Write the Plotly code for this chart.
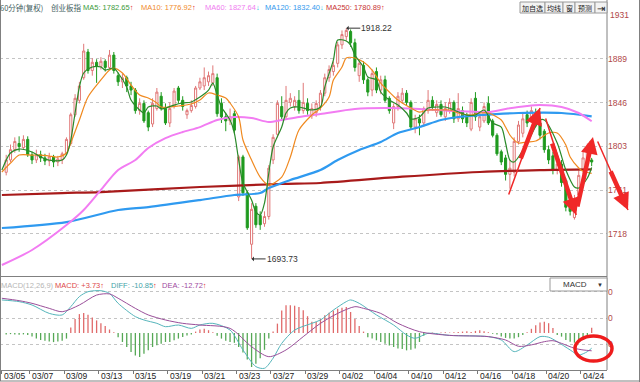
import plotly.graph_objects as go

# ---------------- data (60-minute bars, ChiNext index, 2018-03-05 .. 2018-04-24) ----------------
opens = [1778,1790,1800,1806,1802,1810,1795,1790,1795,1792,1789,1793,1788,1790,
         1797,1806,1834,1848,1870,1895,1877,1885,1881,1886,1880,1892,1872,1866,1870,1862,
         1858,1838,1845,1836,1825,1840,1852,1840,1826,1842,1860,1848,1834,1838,1842,1860,
         1862,1866,1865,1870,1845,1832,1828,1835,1754,1793,1758,
         1708,1745,1736,1728,1735,1790,1815,1842,1832,1846,1842,1848,1838,1845,1833,1836,
         1842,1855,1870,1876,1884,1902,1910,1915,1904,1872,1882,1868,1858,1876,1858,1868,
         1850,1826,1842,1848,1855,1846,1822,1830,1826,1838,1848,1836,1844,1832,1838,
         1846,1830,1838,1832,1820,1850,1822,1828,1845,1828,1814,1798,1792,1776,1778,1808,
         1816,1834,1830,1836,1826,1818,1800,1794,1780,1786,1770,1746,1734,1756,1780,1786,1790]
closes = [1790,1800,1808,1803,1810,1795,1790,1795,1792,1789,1793,1788,1791,1796,
          1810,1834,1850,1862,1896,1877,1885,1881,1886,1880,1892,1877,1866,1870,1862,1858,
          1838,1845,1828,1822,1845,1856,1840,1826,1840,1857,1848,1842,1838,1843,1860,1866,
          1870,1872,1874,1835,1832,1828,1832,1819,1793,1758,1724,
          1742,1727,1727,1735,1782,1812,1845,1832,1848,1850,1848,1838,1846,1838,1840,1845,
          1855,1870,1878,1882,1902,1912,1916,1904,1880,1884,1868,1856,1874,1858,1868,1848,
          1838,1842,1852,1855,1846,1822,1830,1826,1840,1848,1842,1844,1834,1840,1846,
          1830,1840,1830,1826,1846,1832,1832,1842,1826,1814,1796,1788,1776,1782,1808,1824,
          1830,1826,1838,1826,1814,1800,1790,1780,1786,1768,1744,1740,1752,1775,1792,1800,1788]
highs = [1795,1805,1812,1813,1814,1813,1798,1800,1799,1796,1797,1795,1794,1798,
         1812,1836,1854,1866,1903,1898,1889,1888,1890,1888,1897,1895,1875,1874,1872,1866,
         1860,1850,1848,1838,1850,1860,1856,1845,1846,1860,1862,1852,1840,1848,1862,1870,
         1880,1876,1882,1874,1850,1836,1840,1838,1795,1795,1760,
         1748,1748,1740,1740,1785,1815,1848,1852,1862,1855,1852,1858,1865,1850,1845,1848,
         1858,1874,1882,1886,1905,1916,1918.22,1917,1908,1888,1886,1870,1878,1880,1872,1872,
         1852,1845,1856,1860,1858,1848,1834,1834,1842,1858,1852,1848,1848,1846,1850,
         1848,1855,1842,1836,1850,1856,1836,1846,1852,1830,1816,1800,1795,1790,1812,1828,
         1836,1838,1842,1840,1830,1820,1804,1798,1790,1790,1772,1750,1756,1780,1798,1806,1792]
lows = [1775,1788,1797,1798,1800,1793,1786,1787,1788,1785,1784,1783,1784,1786,
        1795,1804,1832,1845,1868,1874,1872,1865,1878,1876,1878,1874,1862,1860,1856,1853,
        1835,1834,1826,1818,1822,1838,1838,1824,1822,1840,1845,1838,1830,1836,1840,1858,
        1858,1862,1862,1832,1826,1818,1824,1816,1750,1755,1722,
        1693.73,1724,1722,1725,1732,1786,1812,1828,1830,1842,1838,1835,1835,1834,1830,1832,
        1838,1852,1866,1872,1880,1898,1906,1900,1876,1866,1864,1852,1852,1855,1854,1846,
        1835,1820,1838,1845,1843,1820,1816,1814,1822,1835,1838,1832,1832,1828,1835,
        1826,1827,1826,1822,1818,1828,1818,1826,1824,1812,1794,1785,1770,1762,1774,1805,
        1812,1822,1826,1822,1810,1797,1786,1776,1776,1764,1740,1736,1732,1752,1776,1783,1784]

ma5_x = [-1,1,3,6,8,10,13,14,15,16,17,18,20,22,23,25,26,28,29,31,32,33,35,36,37,39,41,43,45,47,
         48,49,50,52,53,54,55,57,58,59,60,61,62,64,65,66,68,71,73,74,76,77,79,80,81,83,84,86,87,89,
         91,93,94,96,98,100,102,104,107,109,111,113,115,116,117,118,121,124,125,128,130,132,133,135,136]
ma5_v = [1780.2,1796.8,1800.6,1797.7,1792.9,1789.9,1789.9,1794.8,1809.4,1835.7,1860.9,1874.6,1880.4,
         1880.4,1877.5,1879.4,1874.6,1860.9,1848.3,1838.6,1835.7,1841.5,1842.5,1839.6,1840.5,1843.4,
         1845.4,1846.4,1851.2,1858.0,1864.8,1853.2,1841.5,1828.9,1816.2,1789.9,1767.6,1751.0,1739.4,
         1736.4,1748.1,1777.3,1802.6,1822.0,1835.7,1840.5,1841.5,1838.6,1841.5,1860.9,1887.2,1906.7,
         1905.7,1901.8,1892.1,1880.4,1870.7,1867.8,1856.1,1848.3,1843.4,1835.7,1829.8,1831.8,1840.5,
         1841.5,1841.5,1838.6,1833.7,1833.7,1838.6,1825.9,1822.0,1806.5,1789.9,1788.0,1806.5,1828.9,
         1828.9,1806.5,1780.2,1763.7,1762.7,1772.4,1782.65]
ma10_x = [-1,1,3,6,8,10,12,14,15,17,19,22,24,25,27,29,31,33,35,36,38,40,43,45,47,49,51,52,54,55,
          57,59,61,64,66,68,71,73,75,76,78,79,81,83,85,87,89,91,94,96,98,101,103,105,108,110,112,
          115,116,117,118,119,121,123,126,128,130,131,133,134,136]
ma10_v = [1778.3,1787.0,1794.8,1794.8,1794.8,1793.8,1792.9,1796.8,1806.5,1828.9,1851.2,1867.8,1877.5,
          1879.4,1874.6,1862.9,1853.2,1850.3,1845.4,1841.5,1841.5,1842.5,1844.4,1848.3,1855.1,1853.2,
          1850.3,1845.4,1831.8,1809.4,1789.9,1773.4,1765.6,1773.4,1792.9,1819.1,1833.7,1840.5,1851.2,
          1867.8,1880.4,1889.2,1889.2,1885.3,1877.5,1864.8,1856.1,1848.3,1840.5,1836.6,1838.6,1838.6,
          1838.6,1835.7,1833.7,1835.7,1835.7,1828.9,1822.0,1814.3,1809.4,1806.5,1807.5,1808.4,1816.2,
          1816.2,1804.5,1792.9,1782.2,1779.0,1776.92]
ma60_x = [-1,6,14,18,22,26,30,33,37,41,45,49,53,57,61,64,68,73,81,88,96,104,112,116,121,124,129,133,136]
ma60_v = [1687.8,1702.4,1726.7,1741.3,1760.8,1780.2,1789.9,1801.6,1811.3,1817.2,1822.0,1828.9,1831.8,
          1830.8,1826.9,1828.9,1831.8,1834.7,1839.6,1840.5,1839.6,1837.6,1836.6,1839.6,1842.5,1843.4,
          1841.5,1835.7,1827.64]
ma120_x = [-1,14,26,33,45,53,59,61,66,73,77,82,87,91,96,101,105,110,119,129,136]
ma120_v = [1723.8,1729.6,1741.3,1744.2,1751.0,1755.9,1757.8,1762.7,1770.5,1780.2,1789.9,1799.7,1807.5,
           1816.2,1822.0,1828.9,1831.8,1833.7,1835.7,1835.7,1832.4]
ma250_x = [-1,13,22,45,64,73,92,110,124,136]
ma250_v = [1755.9,1757.8,1758.8,1763.7,1766.6,1767.6,1773.7,1778.3,1780.2,1780.89]

macd_hist = [-1.0,-0.8,-1.0,-1.2,-1.0,-1.5,-2.5,-4.0,-5.0,-5.5,-6.0,-6.5,-6.0,-5.5,-4.0,
             4.0,10.0,13.5,14.3,13.0,11.0,9.0,7.0,5.0,2.5,0.5,
             -3.0,-6.4,-10.0,-13.6,-16.0,-17.1,-14.8,-12.4,-10.0,-8.8,-7.6,-6.4,-6.4,-5.2,-4.0,-2.9,-1.7,-1.0,
             1.0,2.5,3.0,2.0,0.5,
             -2.0,-4.0,-5.5,-6.4,-7.0,-10.0,-14.0,-19.0,-24.3,-22.0,-18.0,-12.0,-4.0,
             1.0,6.7,16.0,19.8,19.8,19.5,18.6,16.2,12.0,8.0,8.0,10.0,12.6,14.5,16.0,17.4,18.0,18.6,15.0,10.0,5.0,1.0,
             -3.0,-4.0,-5.2,-6.5,-7.6,-9.0,-10.0,-11.0,-11.5,-12.4,-12.0,-11.0,-6.4,-2.0,
             -0.5,0.3,-0.3,0.3,0.5,0.3,0.5,0.7,1.0,1.2,0.8,1.5,1.9,1.2,0.5,
             -0.5,-1.0,-2.5,-3.5,-4.0,-4.0,-3.0,-1.5,
             0.5,3.0,5.5,7.5,8.0,7.0,3.5,
             -1.4,-2.6,-5.0,-6.2,-6.9,-6.2,-5.0,-2.6,3.73]
diff_x = [-1,3,6,10,13,15,17,19,22,24,26,30,32,35,37,40,43,45,48,52,55,58,60,62,64,67,71,73,76,79,
          80,82,86,90,93,95,98,103,112,115,118,121,124,126,128,131,133,135,136]
diff_v = [23.6,22.4,20.0,14.0,12.9,18.8,26.0,29.5,30.2,28.3,21.2,11.7,9.3,6.9,4.5,5.7,3.3,5.7,6.9,2.1,
          -12.1,-24.0,-25.2,-18.0,-7.4,2.1,6.9,9.3,16.4,22.4,23.6,21.2,12.9,5.7,-1.4,-3.8,-0.2,-1.7,
          -2.6,-5.0,-13.3,-8.6,-2.6,-3.0,-6.2,-12.1,-15.7,-13.3,-10.85]
dea_x = [-1,3,6,10,13,17,21,24,26,30,33,37,41,45,52,57,61,65,69,73,77,81,83,87,91,96,103,112,116,119,
         122,125,127,129,132,134,136]
dea_v = [24.8,23.1,21.2,17.6,15.2,20.0,27.1,27.9,24.8,17.6,12.9,9.3,6.9,5.7,3.3,-9.8,-16.9,-12.1,-2.6,
         6.9,14.0,18.8,17.6,14.0,6.9,0.95,-1.7,-2.6,-5.0,-9.5,-8.5,-6.2,-5.5,-7.4,-10.9,-12.1,-12.72]

tick_idx = [-1.0,5.5,13.5,21.5,29.5,37.5,45.5,53.5,61.5,69.5,77.5,85.5,93.5,101.5,109.5,117.5,125.5,133.5]
tick_labels = ['03/05','03/07','03/09','03/13','03/15','03/19','03/21','03/23','03/27','03/29',
               '04/02','04/04','04/10','04/12','04/16','04/18','04/20','04/24']
price_ticks = [1718.0, 1760.6, 1803.2, 1845.8, 1888.4]
price_tick_text = ['1718', '1761', '1803', '1846', '1889']
price_top_tick, price_top_text = 1931.0, '1931'
macd_ticks = [29.6, 10.7, -7.9]
macd_tick_text = ['0', '0', '0']

high_idx, high_val = 79, 1918.22
low_idx, low_val = 57, 1693.73

# ---------------- figure ----------------
W, H = 640, 382
ML, MR, MT, MB = 0, 33, 0, 12
PW, PH = W - ML - MR, H - MT - MB

def paper(px, py):
    return (px - ML) / PW, (PH - (py - MT)) / PH

LAT = "Liberation Sans, Arial, sans-serif"
CJK = "Noto Sans CJK SC, sans-serif"
AXIS_RED = '#b04848'

idx = list(range(len(closes)))
fig = go.Figure()

fig.add_trace(go.Candlestick(
    x=idx, open=opens, high=highs, low=lows, close=closes,
    increasing=dict(line=dict(color='#e07878', width=1), fillcolor='#ffffff'),
    decreasing=dict(line=dict(color='#1f9a1f', width=1), fillcolor='#1f9a1f'),
    whiskerwidth=0, xaxis='x', yaxis='y', showlegend=False, hoverinfo='skip'))

for xs, vs, col, w in [(ma250_x, ma250_v, '#a81a1a', 2.2), (ma120_x, ma120_v, '#2f9af0', 2.2),
                       (ma60_x, ma60_v, '#f27cf2', 2.0), (ma10_x, ma10_v, '#f0891f', 1.2),
                       (ma5_x, ma5_v, '#2a8a2a', 1.2)]:
    fig.add_trace(go.Scatter(x=xs, y=vs, mode='lines', xaxis='x', yaxis='y',
                             line=dict(color=col, width=w, shape='spline', smoothing=0.8),
                             showlegend=False, hoverinfo='skip'))

fig.add_trace(go.Bar(x=idx, y=macd_hist, xaxis='x', yaxis='y2', width=0.3,
                     marker=dict(color=['#e06a6a' if v > 0 else '#55a855' for v in macd_hist], line=dict(width=0)),
                     showlegend=False, hoverinfo='skip'))
fig.add_trace(go.Scatter(x=diff_x, y=diff_v, mode='lines', xaxis='x', yaxis='y2',
                         line=dict(color='#55b5bb', width=1, shape='spline', smoothing=0.8),
                         showlegend=False, hoverinfo='skip'))
fig.add_trace(go.Scatter(x=dea_x, y=dea_v, mode='lines', xaxis='x', yaxis='y2',
                         line=dict(color='#9a4f9a', width=1, shape='spline', smoothing=0.8),
                         showlegend=False, hoverinfo='skip'))

main_bot = paper(0, 272)[1]
main_top = paper(0, 14)[1]
macd_top = paper(0, 277)[1]

fig.update_layout(
    width=W, height=H, margin=dict(l=ML, r=MR, t=MT, b=MB, autoexpand=False),
    paper_bgcolor='white', plot_bgcolor='white', showlegend=False,
    xaxis=dict(range=[-1.44, 139.56], anchor='y2', domain=[0, 1], showgrid=False, zeroline=False,
               tickvals=tick_idx, ticks='outside', ticklen=3, tickcolor='#777777', automargin=False,
               showticklabels=False, showline=True, linecolor='#808080', linewidth=1,
               rangeslider=dict(visible=False)),
    yaxis=dict(domain=[main_bot, main_top], range=[1681.0, 1932.0], side='right', anchor='x',
               tickvals=price_ticks, ticktext=price_tick_text, ticks='', automargin=False,
               showgrid=True, gridcolor='#c4c4c4', griddash='dot', gridwidth=1, zeroline=False,
               tickfont=dict(family=LAT, size=8.5, color=AXIS_RED), showline=False),
    yaxis2=dict(domain=[0, macd_top], range=[-26.43, 40.0], side='right', anchor='x',
                tickvals=macd_ticks, ticktext=macd_tick_text, ticks='', automargin=False,
                showgrid=True, gridcolor='#c4c4c4', griddash='dot', gridwidth=1, zeroline=False,
                tickfont=dict(family=LAT, size=8.5, color=AXIS_RED), showline=False),
)

shapes = []
def pline(x0, y0, x1, y1, color='#808080', width=1):
    a, b = paper(x0, y0)
    c, d = paper(x1, y1)
    shapes.append(dict(type='line', xref='paper', yref='paper', x0=a, y0=b, x1=c, y1=d,
                       line=dict(color=color, width=width)))

pline(607, 0, 607, 370)          # plot right edge
pline(639.5, 0, 639.5, 382)      # outer right border
pline(0, 381, 640, 381)          # outer bottom border
pline(0.5, 0, 0.5, 381)          # outer left border
pline(0, 276.5, 607, 276.5)      # panel separator

annotations = []
def ptext(px, py, text, color='#333333', size=9, family=LAT, xanchor='left'):
    a, b = paper(px, py)
    annotations.append(dict(xref='paper', yref='paper', x=a, y=b, text=text, showarrow=False,
                            xanchor=xanchor, yanchor='middle', borderpad=0,
                            font=dict(family=family, size=size, color=color)))

# top price label (no grid line at the top edge)
annotations.append(dict(xref='paper', yref='y', x=1.0, y=price_top_tick, text=price_top_text,
                        showarrow=False, xanchor='left', yanchor='middle', xshift=2, borderpad=0,
                        font=dict(family=LAT, size=8.5, color=AXIS_RED)))

UP = "<span style='color:#e02020'>↑</span>"
DN = "<span style='color:#22bde0'>↓</span>"
ptext(-1, 7, '60分钟(复权)', '#3f5e5e', 7.5, CJK)
ptext(50, 7, '创业板指', '#3f5e5e', 7.5, CJK)
ptext(82, 7, 'MA5: 1782.65' + UP, '#3b9b3b', 7.5)
ptext(140, 7, 'MA10: 1776.92' + UP, '#f08a2c', 7.5)
ptext(204, 7, 'MA60: 1827.64' + DN, '#f07cf0', 7.5)
ptext(264, 7, 'MA120: 1832.40' + DN, '#3399ee', 7.5)
ptext(325, 7, 'MA250: 1780.89' + UP, '#c83232', 7.5)

# toolbar buttons
for x0, x1, label in [(520, 545, '加自选'), (545, 563, '均线'), (563, 575, '窗'),
                      (575, 595, '预测'), (595, 607, '⇥')]:
    a, b = paper(x0, 13)
    c, d = paper(x1, 2)
    shapes.append(dict(type='rect', xref='paper', yref='paper', x0=a, y0=b, x1=c, y1=d,
                       line=dict(color='#9a9a9a', width=1), fillcolor='#f3f3f3'))
    ptext((x0 + x1) / 2, 7.5, label, '#222222', 7 if label != '⇥' else 10, CJK, 'center')

# MACD legend
ptext(0, 285, 'MACD(12,26,9)', '#b5b5b5', 7.5)
ptext(54, 285, 'MACD: +3.73' + UP, '#dd4a4a', 7.5)
ptext(110, 285, 'DIFF: -10.85' + UP, '#3fa3a8', 7.5)
ptext(161, 285, 'DEA: -12.72' + UP, '#a04aa0', 7.5)

# MACD dropdown box
a, b = paper(550, 291)
c, d = paper(607, 278)
shapes.append(dict(type='rect', xref='paper', yref='paper', x0=a, y0=b, x1=c, y1=d,
                   line=dict(color='#9a9a9a', width=1), fillcolor='#ffffff'))
ptext(575, 284.5, 'MACD', '#333333', 8, LAT, 'center')
ptext(600, 284.5, '▼', '#333333', 6, LAT, 'center')

# x tick labels
for t, lab in zip(tick_idx, tick_labels):
    annotations.append(dict(xref='x', yref='paper', x=t, y=paper(0, 376)[1], text=lab,
                            showarrow=False, xanchor='left', yanchor='middle', xshift=1, borderpad=0,
                            font=dict(family=LAT, size=8.5, color='#222222')))

# high / low markers
for xi, yv in [(high_idx, high_val), (low_idx, low_val)]:
    annotations.append(dict(xref='x', yref='y', x=xi, y=yv, text=f'{yv:.2f}', showarrow=True,
                            ax=14, ay=0, xanchor='left', arrowhead=1, arrowsize=0.8, arrowwidth=1,
                            arrowcolor='#333333', standoff=0, borderpad=0,
                            font=dict(family=LAT, size=8.5, color='#333333')))

# hand-drawn red arrows
RED = '#f02828'
def darrow(tip, tail, width, head):
    annotations.append(dict(xref='x', yref='y', axref='x', ayref='y', x=tip[0], y=tip[1],
                            ax=tail[0], ay=tail[1], text='', showarrow=True, arrowcolor=RED,
                            arrowwidth=width, arrowhead=head, arrowsize=0.75, standoff=0))

darrow((124.0, 1840.5), (116.6, 1754.9), 1.5, 0)
darrow((124.0, 1840.5), (119.4, 1789.9), 4.5, 2)
darrow((132.4, 1736.4), (125.2, 1831.8), 1.5, 0)
darrow((132.4, 1736.4), (126.7, 1807.5), 4.5, 2)
darrow((136.3, 1812.3), (132.6, 1743.3), 4.5, 2)

tipx, tipy = paper(628, 210)
annotations.append(dict(xref='paper', yref='paper', x=tipx, y=tipy, ax=-31, ay=-70, text='',
                        showarrow=True, arrowcolor=RED, arrowwidth=1.5, arrowhead=0, standoff=0))
annotations.append(dict(xref='paper', yref='paper', x=tipx, y=tipy, ax=-18, ay=-40, text='',
                        showarrow=True, arrowcolor=RED, arrowwidth=4.5, arrowhead=2,
                        arrowsize=0.75, standoff=0))

# red ellipse on MACD
a, b = paper(575, 361)
c, d = paper(612, 336)
shapes.append(dict(type='circle', xref='paper', yref='paper', x0=a, y0=b, x1=c, y1=d,
                   line=dict(color='#ee1c1c', width=3.5)))

fig.update_layout(shapes=shapes, annotations=annotations)
fig.write_html("out.html", config={'displayModeBar': False, 'staticPlot': True},
               post_script="document.body.style.margin='0px';document.body.style.padding='0px';"
                           "document.body.style.overflow='hidden';")
